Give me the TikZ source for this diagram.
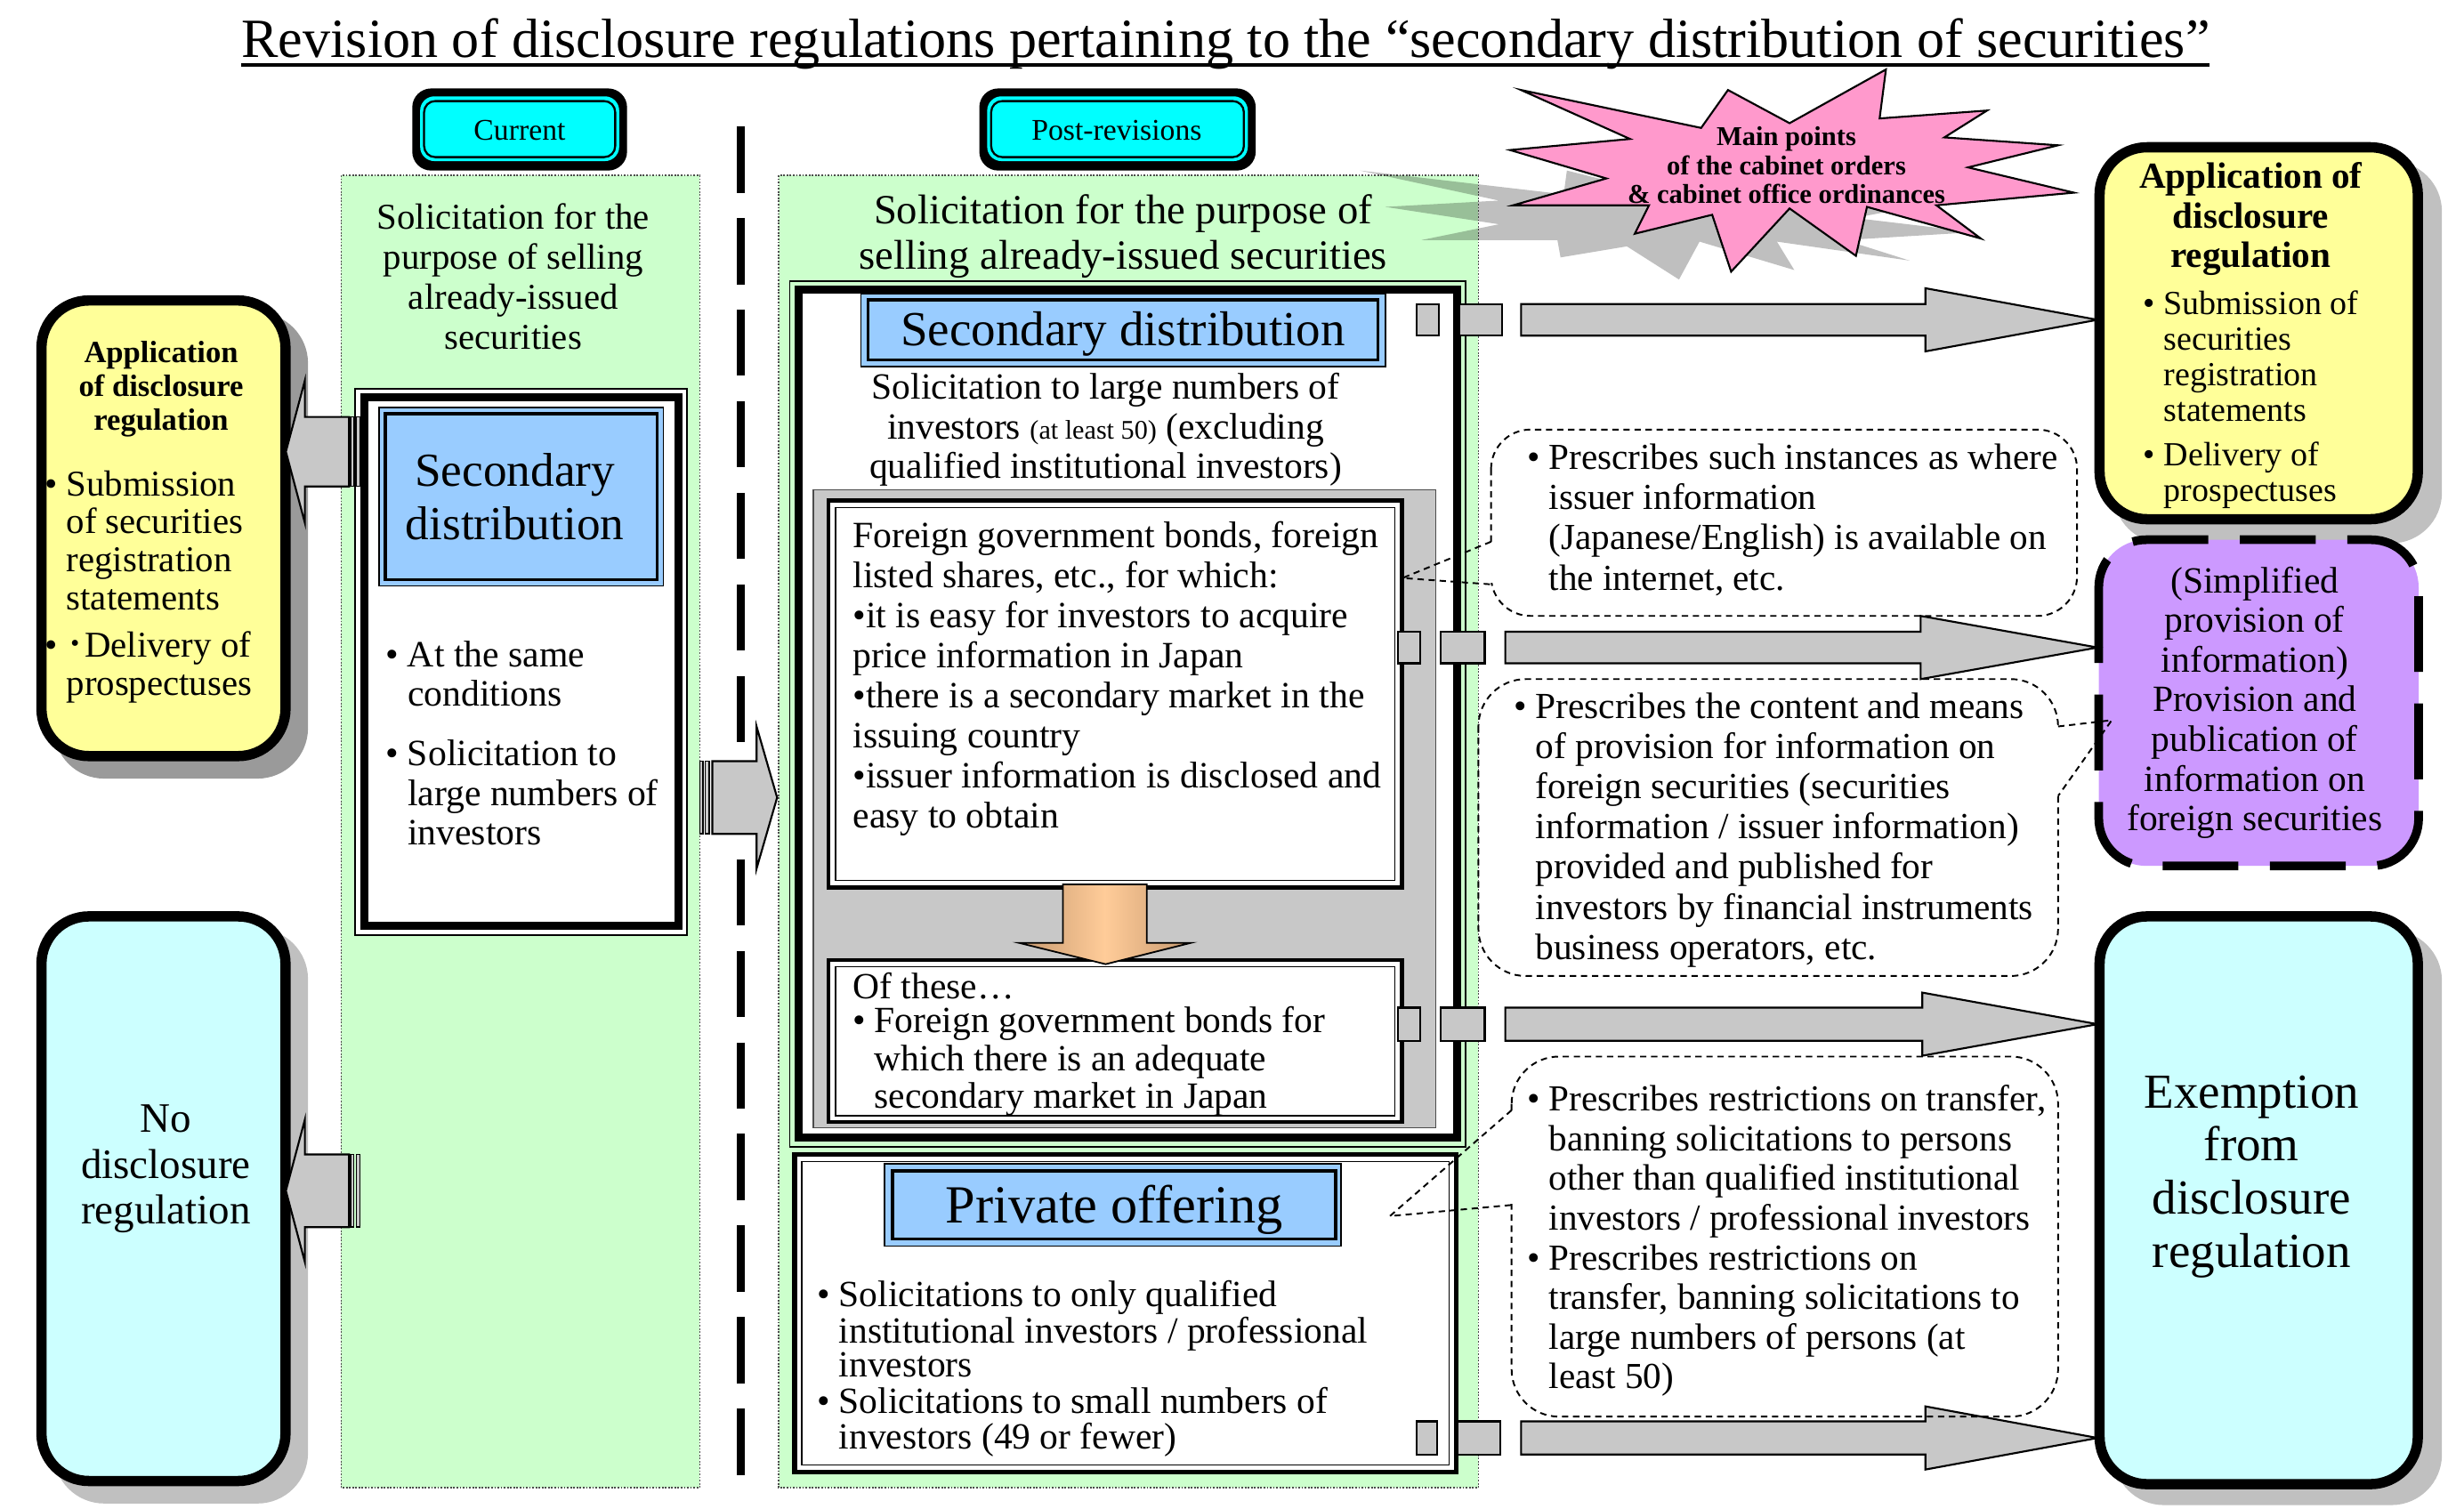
\documentclass[tikz,border=0pt]{standalone}
\usepackage{fontspec}
\setmainfont{Liberation Serif}
\newfontfamily\cjk{Noto Sans CJK JP}
\usetikzlibrary{calc}
\definecolor{pgreen}{HTML}{CCFFCC}
\definecolor{pcyan}{HTML}{00FFFF}
\definecolor{lblue}{HTML}{99CCFF}
\definecolor{pyellow}{HTML}{FFFF99}
\definecolor{lcyan}{HTML}{CCFFFF}
\definecolor{ppurple}{HTML}{CC99FF}
\definecolor{ppink}{HTML}{FF99CC}
\definecolor{agray}{HTML}{C8C8C8}
\definecolor{porange}{HTML}{FFCC99}
\definecolor{pbrown}{HTML}{C89A70}
\definecolor{shdA}{HTML}{9A9A9A}
\definecolor{shdB}{HTML}{C0C0C0}
\newcommand\fs[2]{\fontsize{#1}{#2}\selectfont}
\newcommand\bt[1]{\begin{tabular}{@{}l@{\hspace{5.5pt}}l@{}}#1\end{tabular}}
\newcommand\barr[6]{\draw[blk] ({#1},{#4-#5}) -- ({#2},{#4-#5}) -- ({#2},{#4-#6}) -- ({#3},{#4}) -- ({#2},{#4+#6}) -- ({#2},{#4+#5}) -- ({#1},{#4+#5}) -- cycle;}
\begin{document}
\begin{tikzpicture}[x=1pt,y=-1pt,
  every node/.style={inner sep=0pt,outer sep=0pt},
  panel/.style={fill=pgreen,draw=black!70,line width=0.8,dash pattern=on 1pt off 1pt},
  blk/.style={fill=agray,draw=black,line width=1.2},
  callout/.style={draw=black,line width=1.1,dash pattern=on 4pt off 3pt},
  tc/.style={anchor=north,align=center},
  tl/.style={anchor=north west}]
\useasboundingbox (0,0) rectangle (1560,955);
\fill[white] (0,0) rectangle (1560,955);

% title
\node[anchor=base,font=\fs{35}{40}] (title) at (776,36.6) {Revision of disclosure regulations pertaining to the “secondary distribution of securities”};
\draw[line width=1.8] ([yshift=-4.5pt]title.base west) -- ([yshift=-4.5pt]title.base east);

% panels
\draw[panel] (216,111) rectangle (443,942);
\draw[panel] (493,111) rectangle (936,942);
\draw[line width=5,dash pattern=on 42pt off 16pt] (469,80) -- (469,946);

% header tabs
\fill[black,rounded corners=12] (261,56) rectangle (397,108);
\fill[pcyan,rounded corners=9] (266,61) rectangle (392,102);
\draw[line width=1.3,fill=pcyan,rounded corners=7] (268.5,64) rectangle (389.5,99.5);
\node[font=\fs{19}{22}] (cur) at (329,82.5) {Current};
\fill[black,rounded corners=12] (620,56) rectangle (795,108);
\fill[pcyan,rounded corners=9] (625,61) rectangle (790,102);
\draw[line width=1.3,fill=pcyan,rounded corners=7] (627.5,64) rectangle (787.5,99.5);
\node[font=\fs{19}{22}] (post) at (707,82.5) {Post-revisions};

% star shadow and star
\fill[black,opacity=0.25] (861,108) -- (990,123) -- (992,108) -- (1044,121) -- (1084,100) -- (1099,119) -- (1164,116) -- (1147,126) -- (1222,129) -- (1174,138) -- (1250,147) -- (1168,152) -- (1209,165) -- (1125,153) -- (1136,171) -- (1076,153) -- (1063,177) -- (1030,156) -- (988,163) -- (986,152) -- (900,152) -- (949,142) -- (877,131) -- (949,127) -- cycle;
\draw[fill=ppink,line width=1.2] (963,57) -- (1077,81) -- (1094,57) -- (1133,78) -- (1194,44) -- (1190,75) -- (1258,70) -- (1231,87) -- (1303,92) -- (1246,106) -- (1313,122) -- (1226,130) -- (1254,151) -- (1182,131) -- (1175,162) -- (1133,132) -- (1096,172) -- (1084,136) -- (1035,148) -- (1044,130) -- (958,130) -- (1017,113) -- (956,95) -- (1032,88) -- cycle;
\node[tc,font=\bfseries\fs{17.2}{18.3}] (star) at (1131,80.3) {Main points\\of the cabinet orders\\\& cabinet office ordinances};

% left boxes
\fill[shdA,rounded corners=32] (34,198) rectangle (195,493);
\draw[line width=6.5,fill=pyellow,rounded corners=30] (26.25,190.25) rectangle (180.75,478.75);
\fill[shdB,rounded corners=32] (34,588) rectangle (195,952);
\draw[line width=6.5,fill=lcyan,rounded corners=30] (26.25,580.25) rectangle (180.75,937.75);

% right boxes
\fill[shdB,rounded corners=32] (1338,102) rectangle (1546,344);
\draw[line width=6.5,fill=pyellow,rounded corners=30] (1329.25,93.25) rectangle (1530.75,328.75);
\draw[line width=5.5,fill=ppurple,rounded corners=30,dash pattern=on 48pt off 20pt] (1328.75,341.75) rectangle (1531.25,548.25);
\fill[shdB,rounded corners=32] (1338,589) rectangle (1546,953);
\draw[line width=6.5,fill=lcyan,rounded corners=30] (1329.25,580.25) rectangle (1530.75,939.75);

% current: secondary distribution box
\draw[line width=1,fill=white] (225,246) rectangle (435,592);
\draw[line width=5] (230.5,251.5) rectangle (429.5,586);
\draw[line width=1,fill=lblue] (240,258) rectangle (420,371);
\draw[line width=2] (244,262) rectangle (416,367);

% post: secondary distribution box
\draw[line width=1] (500,178) rectangle (928,726);
\draw[line width=5,fill=white] (505.5,183.5) rectangle (922.5,720.5);
\draw[line width=1,fill=lblue] (545,186) rectangle (877,232);
\draw[line width=2] (549.5,190) rectangle (872.5,228);
\draw[line width=0.8,draw=black!70,fill=agray] (515,310) rectangle (909,714);
\draw[line width=2.5,fill=white] (524.5,317) rectangle (887.5,562);
\draw[line width=0.9] (529,321.5) rectangle (883,557.5);
\draw[line width=2.5,fill=white] (524.5,608) rectangle (887.5,710.5);
\draw[line width=0.9] (529,612) rectangle (883,706.5);
\shade[left color=pbrown,right color=pbrown,middle color=porange] (673,560) -- (726,560) -- (726,597) -- (754,597) -- (700,610.5) -- (645,597) -- (673,597) -- cycle;
\draw[line width=1] (673,560) -- (726,560) -- (726,597) -- (754,597) -- (700,610.5) -- (645,597) -- (673,597) -- cycle;

% post: private offering box
\draw[line width=3,fill=white] (503,731) rectangle (922,932);
\draw[line width=0.8] (507.5,735.5) rectangle (917.5,927.5);
\draw[line width=1,fill=lblue] (560,737) rectangle (849,789);
\draw[line width=2] (565,741.5) rectangle (845.5,784.5);

% block arrows to the right
\draw[blk] (897,192.5) rectangle (911,212.5);
\draw[blk] (924,192.5) rectangle (951,212.5);
\barr{963}{1219}{1328}{202.5}{10}{20}
\draw[blk] (885,400) rectangle (899,420);
\draw[blk] (912,400) rectangle (940,420);
\barr{953}{1216}{1328}{410}{10}{20}
\draw[blk] (885,638) rectangle (899,659);
\draw[blk] (912,638) rectangle (940,659);
\barr{953}{1217}{1328}{648.5}{10.5}{20}
\draw[blk] (897,900) rectangle (910,921);
\draw[blk] (923,900) rectangle (950,921);
\barr{963}{1219}{1328}{910.5}{10.5}{20}

% block arrows to the left and middle
\barr{221}{193}{181}{286}{22}{45}
\draw[blk,line width=0.8] (222,264) rectangle (224,308);
\draw[blk,line width=0.8] (225.5,264) rectangle (228,308);
\barr{221}{193}{181}{754}{23}{45}
\draw[blk,line width=0.8] (222,731) rectangle (224,777);
\draw[blk,line width=0.8] (225.5,731) rectangle (228,777);
\barr{451}{479}{492}{505}{23}{45}
\draw[blk,line width=0.8] (443,482) rectangle (445,528);
\draw[blk,line width=0.8] (446.5,482) rectangle (449,528);

% callouts
\draw[callout,rounded corners=25] (944,272) rectangle (1315,390);
\draw[white,line width=2.5] (944,344) -- (944,369);
\draw[callout] (944,343) -- (888,366) -- (944,370);
\draw[callout,rounded corners=30] (936,430) rectangle (1303,618);
\draw[white,line width=2.5] (1303,461) -- (1303,503);
\draw[callout] (1303,460) -- (1337,456) -- (1303,504);
\draw[callout,rounded corners=30] (957,669) rectangle (1303,897);
\draw[white,line width=2.5] (957,704) -- (957,762);
\draw[callout] (957,703) -- (880,770) -- (957,763);

% texts: current column
\node[tc,font=\fs{23}{25.3}] (lhead) at (325,129) {Solicitation for the\\purpose of selling\\already-issued\\securities};
\node[tc,font=\fs{30}{33.4}] (lsec) at (326,287.3) {Secondary\\distribution};
\node[tl,font=\fs{23.5}{25}] (lb1) at (244.3,404.5) {\bt{•&At the same\\&conditions}};
\node[tl,font=\fs{23.5}{25}] (lb2) at (244.3,467.5) {\bt{•&Solicitation to\\&large numbers of\\&investors}};

% texts: left boxes
\node[tc,font=\bfseries\fs{19.5}{21.5}] (lapp) at (102,216) {Application\\of disclosure\\regulation};
\node[tl,font=\fs{23}{24}] (lyb1) at (28.5,297.2) {\bt{•&Submission\\&of securities\\&registration\\&statements}};
\node[tl,font=\fs{23}{24}] (lyb2) at (28.5,399.2) {\bt{•&{\cjk ･}Delivery of\\&prospectuses}};
\node[tc,font=\fs{26.5}{29}] (lno) at (105,699.7) {No\\disclosure\\regulation};

% texts: post column
\node[tc,font=\fs{26.3}{29}] (mhead) at (711,122.9) {Solicitation for the purpose of\\selling already-issued securities};
\node[tc,font=\fs{31}{34}] (msec) at (711,197.6) {Secondary distribution};
\node[tc,font=\fs{23.4}{25.3}] (msub) at (700,236) {Solicitation to large numbers of\\investors {\fs{17}{20}(at least 50)} (excluding\\qualified institutional investors)};
\node[tl,align=left,font=\fs{23.5}{25.3}] (wb1) at (540,330.3) {Foreign government bonds, foreign\\listed shares, etc., for which:\\•it is easy for investors to acquire\\price information in Japan\\•there is a secondary market in the\\issuing country\\•issuer information is disclosed and\\easy to obtain};
\node[tl,font=\fs{23.4}{22.5}] (wb2a) at (540,616) {Of these…};
\node[tl,font=\fs{23.4}{24}] (wb2) at (540,637) {\bt{•&Foreign government bonds for\\&which there is an adequate\\&secondary market in Japan}};
\node[anchor=base,font=\fs{34}{38}] (ptitle) at (705.5,774.4) {Private offering};
\node[tl,font=\fs{23.4}{21}] (pb1) at (517.5,811) {\bt{•&Solicitations to only qualified\\&institutional investors / professional\\&investors}};
\node[tl,font=\fs{23.4}{21}] (pb2) at (517.5,878.3) {\bt{•&Solicitations to small numbers of\\&investors (49 or fewer)}};

% texts: callouts
\node[tl,font=\fs{23.2}{25.5}] (c1t) at (967,279.2) {\bt{•&Prescribes such instances as where\\&issuer information\\&(Japanese/English) is available on\\&the internet, etc.}};
\node[tl,font=\fs{23.3}{25.4}] (c2t) at (958.5,437.2) {\bt{•&Prescribes the content and means\\&of provision for information on\\&foreign securities (securities\\&information / issuer information)\\&provided and published for\\&investors by financial instruments\\&business operators, etc.}};
\node[tl,font=\fs{23.2}{25.1}] (c3t) at (967,686) {\bt{•&Prescribes restrictions on transfer,\\&banning solicitations to persons\\&other than qualified institutional\\&investors / professional investors\\•&Prescribes restrictions on\\&transfer, banning solicitations to\\&large numbers of persons (at\\&least 50)}};

% texts: right boxes
\node[tc,font=\bfseries\fs{23.2}{25}] (rapp) at (1425,103) {Application of\\disclosure\\regulation};
\node[tl,font=\fs{21.4}{22.6}] (ryb1) at (1357,183.2) {\bt{•&Submission of\\&securities\\&registration\\&statements}};
\node[tl,font=\fs{21.4}{22.6}] (ryb2) at (1357,279.2) {\bt{•&Delivery of\\&prospectuses}};
\node[tc,font=\fs{23.4}{25.1}] (ppt) at (1427.5,358.9) {(Simplified\\provision of\\information)\\Provision and\\publication of\\information on\\foreign securities};
\node[tc,font=\fs{31}{33.6}] (rex) at (1425.5,681) {Exemption\\from\\disclosure\\regulation};
\end{tikzpicture}
\end{document}
